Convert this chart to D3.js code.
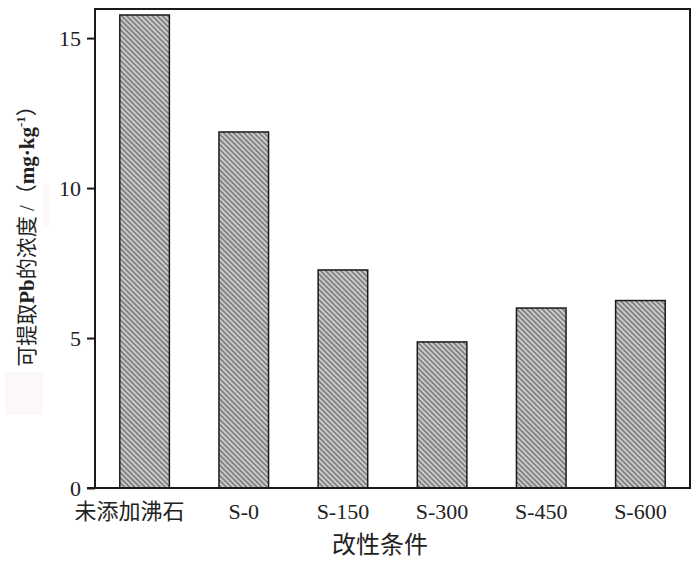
<!DOCTYPE html>
<html>
<head>
<meta charset="utf-8">
<script src="https://cdn.jsdelivr.net/npm/d3@7"></script>
<style>
  body { margin: 0; background: #fff; }
  svg { display: block; }
  text { fill: #222; }
</style>
</head>
<body>
<script>
// categories and values
var categories = ["未添加沸石", "S-0", "S-150", "S-300", "S-450", "S-600"];
var values = [15.77, 11.87, 7.27, 4.87, 6.0, 6.25];
var yTicks = [0, 5, 10, 15];

var width = 700, height = 570;
var margin = ({top: 9, right: 10, bottom: 82, left: 95});
var serif = "'Liberation Serif', 'Times New Roman', 'Noto Sans CJK SC', serif";

var x = d3.scaleBand()
    .domain(categories)
    .range([margin.left, width - margin.right])
    .paddingInner(0.5)
    .paddingOuter(0.25);

var y = d3.scaleLinear()
    .domain([0, 15.97])
    .range([height - margin.bottom, margin.top]);

const svg = d3.select("body").append("svg")
    .attr("width", width)
    .attr("height", height);

// hatch pattern: gray fill with backslash diagonal dark lines
var defs = svg.append("defs");
var pat = defs.append("pattern")
    .attr("id", "hatch")
    .attr("patternUnits", "userSpaceOnUse")
    .attr("width", 3.6)
    .attr("height", 3.6)
    .attr("patternTransform", "rotate(45)");
pat.append("rect").attr("width", 3.6).attr("height", 3.6).attr("fill", "#cbcbcb");
pat.append("line")
    .attr("x1", 0).attr("y1", 0.8).attr("x2", 3.6).attr("y2", 0.8)
    .attr("stroke", "#5e5e5e").attr("stroke-width", 1.2);

// faint artifacts of the scanned figure
svg.append("rect").attr("x", 5).attr("y", 372).attr("width", 38).attr("height", 43).attr("fill", "#fdf8f8");
svg.append("rect").attr("x", 43).attr("y", 185).attr("width", 7).attr("height", 41).attr("fill", "#fdf8f8");

svg.append("g")
  .selectAll("rect")
  .data(values)
  .enter().append("rect")
    .attr("x", (d, i) => x(categories[i]))
    .attr("y", d => y(d))
    .attr("width", x.bandwidth())
    .attr("height", d => y(0) - y(d))
    .attr("fill", "url(#hatch)")
    .attr("stroke", "#1a1a1a")
    .attr("stroke-width", 1.5);

// frame
svg.append("rect")
    .attr("x", margin.left)
    .attr("y", margin.top)
    .attr("width", width - margin.right - margin.left)
    .attr("height", height - margin.bottom - margin.top)
    .attr("fill", "none")
    .attr("stroke", "#1a1a1a")
    .attr("stroke-width", 2);

var yAxis = g => g
    .attr("transform", `translate(${margin.left},0)`)
    .call(d3.axisLeft(y).tickValues(yTicks).tickSize(8).tickPadding(6).tickSizeOuter(0))
    .call(g => g.select(".domain").remove())
    .call(g => g.selectAll("line").attr("stroke", "#1a1a1a").attr("stroke-width", 2))
    .call(g => g.selectAll("text").attr("font-family", serif).attr("font-size", 22).attr("fill", "#222"));

var xAxis = g => g
    .attr("transform", `translate(0,${height - margin.bottom})`)
    .call(d3.axisBottom(x).tickSize(0).tickPadding(15))
    .call(g => g.select(".domain").remove())
    .call(g => g.selectAll("text").attr("font-family", serif).attr("font-size", 22).attr("fill", "#222")
        .attr("dx", (d, i) => i === 0 ? -15 : 0));

svg.append("g").call(yAxis);
svg.append("g").call(xAxis);

// extend bottom axis line to the left under the tick
svg.append("line")
    .attr("x1", margin.left - 8).attr("x2", margin.left)
    .attr("y1", y(0)).attr("y2", y(0))
    .attr("stroke", "#1a1a1a").attr("stroke-width", 2);

svg.append("text")
    .attr("x", 380)
    .attr("y", 553)
    .attr("text-anchor", "middle")
    .attr("font-family", serif)
    .attr("font-size", 24)
    .text("改性条件");

var ylab = svg.append("text")
    .attr("transform", "translate(34,231) rotate(-90)")
    .attr("text-anchor", "middle")
    .attr("font-family", serif)
    .attr("font-size", 21);
ylab.append("tspan").text("可提取");
ylab.append("tspan").attr("font-weight", "bold").text("Pb");
ylab.append("tspan").text("的浓度 /（");
ylab.append("tspan").attr("font-weight", "bold").text("mg·kg");
ylab.append("tspan").attr("font-weight", "bold").attr("font-size", 13).attr("dy", -9).text("-1");
ylab.append("tspan").attr("dy", 9).text("）");
</script>
</body>
</html>
